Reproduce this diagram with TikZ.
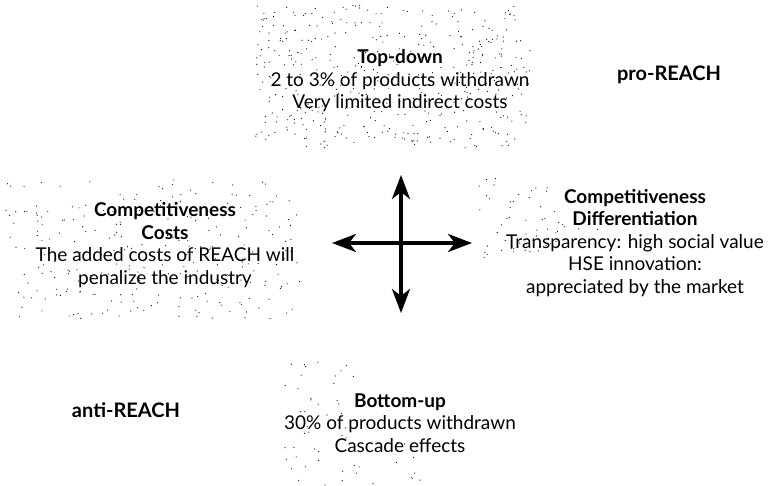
\documentclass[tikz,border=0pt]{standalone}
\usepackage{fontspec}
\setmainfont{Lato}
\usetikzlibrary{arrows.meta}
% sprinkle n dots over a box: x0, y0, width, height, n
\newcommand{\speckle}[5]{%
  \foreach \k in {1,...,#5}{\fill (#1+rnd*#3, #2+rnd*#4) circle (0.6pt);}}
\tikzset{
  blurb/.style={align=center, inner sep=0pt, font=\fontsize{19}{22.5}\selectfont},
  camp/.style={inner sep=0pt, font=\fontsize{20}{24}\selectfont\bfseries},
  bighead/.tip={Stealth[length=24pt,width=18pt,inset=7pt]},
  cross/.style={line width=3.8pt, bighead-bighead},
}
\begin{document}
\begin{tikzpicture}[x=1pt, y=-1pt]
    \useasboundingbox (0,0) rectangle (768,486);
        \pgfmathsetseed{4711}
        % stippled grounds
        \speckle{255}{5}{275}{143}{430}
        \speckle{5}{180}{295}{140}{260}
        \speckle{478}{178}{85}{85}{55}
        \speckle{560}{222}{50}{20}{6}
        \speckle{285}{355}{75}{131}{45}
        \speckle{360}{440}{60}{46}{10}
        % the four positions
        \node[blurb] (top) at (400,81) {\textbf{Top-down}\\ 2 to 3\% of products withdrawn\\ Very limited indirect costs};
        \node[blurb] (left) at (165,245) {\textbf{Competitiveness}\\ \textbf{Costs}\\ The added costs of REACH will\\ penalize the industry};
        \node[blurb] (right) at (635,243) {\textbf{Competitiveness}\\ \textbf{Differentiation}\\ Transparency: high social value\\ HSE innovation:\\ appreciated by the market};
        \node[blurb] (bottom) at (400,423) {\textbf{Bottom-up}\\ 30\% of products withdrawn\\ Cascade effects};
        \node[camp] (pro) at (669,75) {pro-REACH};
        \node[camp] (anti) at (126,410) {anti-REACH};
        % the cross
        \coordinate (hub) at (401,243);
        \coordinate (up) at (401,175);
        \coordinate (down) at (401,313);
        \coordinate (west) at (332,243);
        \coordinate (east) at (472,243);
        \draw[cross] (up) -- (down);
        \draw[cross] (west) -- (east);
    \end{tikzpicture}
\end{document}
